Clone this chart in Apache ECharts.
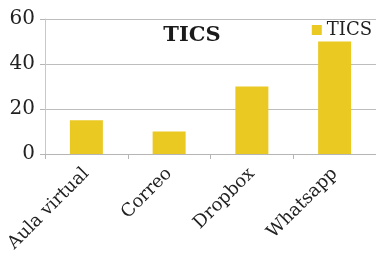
<!DOCTYPE html>
<html>
<head>
<meta charset="utf-8">
<script src="https://cdn.jsdelivr.net/npm/echarts@6/dist/echarts.min.js"></script>
<style>
  html, body { margin: 0; padding: 0; background: #fff; }
  #chart { width: 376px; height: 258px; }
</style>
</head>
<body>
<div id="chart"></div>
<script>
// datos
const categories = ['Aula virtual', 'Correo', 'Dropbox', 'Whatsapp']
const ticsValues = [15, 10, 30, 50]
const seriesName = 'TICS'

const serif = '"DejaVu Serif", "Liberation Serif", serif'

const chart = echarts.init(document.getElementById('chart'), null, { renderer: 'canvas' })

const option = {
  animation: false,
  title: {
    text: 'TICS',
    left: 187,
    top: 20,
    textAlign: 'center',
    textStyle: { fontFamily: serif, fontWeight: 'bold', fontSize: 21, color: '#1a1a1a' },
  },
  legend: {
    data: [seriesName],
    right: 4,
    top: 21,
    padding: 0,
    itemWidth: 10,
    itemHeight: 10,
    itemGap: 5,
    icon: 'rect',
    textStyle: { fontFamily: serif, fontSize: 18, color: '#222' },
  },
  grid: {
    left: 45,
    right: -2,
    top: 19,
    bottom: 104,
    containLabel: false,
  },
  xAxis: {
    type: 'category',
    data: categories,
    axisLine: { show: true, lineStyle: { color: '#b5b5b5', width: 1 } },
    axisTick: { show: true, length: 5, lineStyle: { color: '#b5b5b5' } },
    axisLabel: {
      rotate: 45,
      margin: 17,
      fontFamily: serif,
      fontSize: 18,
      color: '#222',
    },
  },
  yAxis: {
    type: 'value',
    min: 0,
    max: 60,
    interval: 20,
    axisLine: { show: true, lineStyle: { color: '#c8c8c8', width: 1 } },
    axisTick: { show: true, length: 5, lineStyle: { color: '#b5b5b5' } },
    splitLine: { lineStyle: { color: '#bdbdbd', width: 1 } },
    axisLabel: {
      margin: 10,
      fontFamily: serif,
      fontSize: 20,
      color: '#222',
    },
  },
  series: [
    {
      name: seriesName,
      type: 'bar',
      data: ticsValues,
      barWidth: 33,
      itemStyle: { color: '#EAC923' },
    },
  ],
}

chart.setOption(option)
</script>
</body>
</html>
